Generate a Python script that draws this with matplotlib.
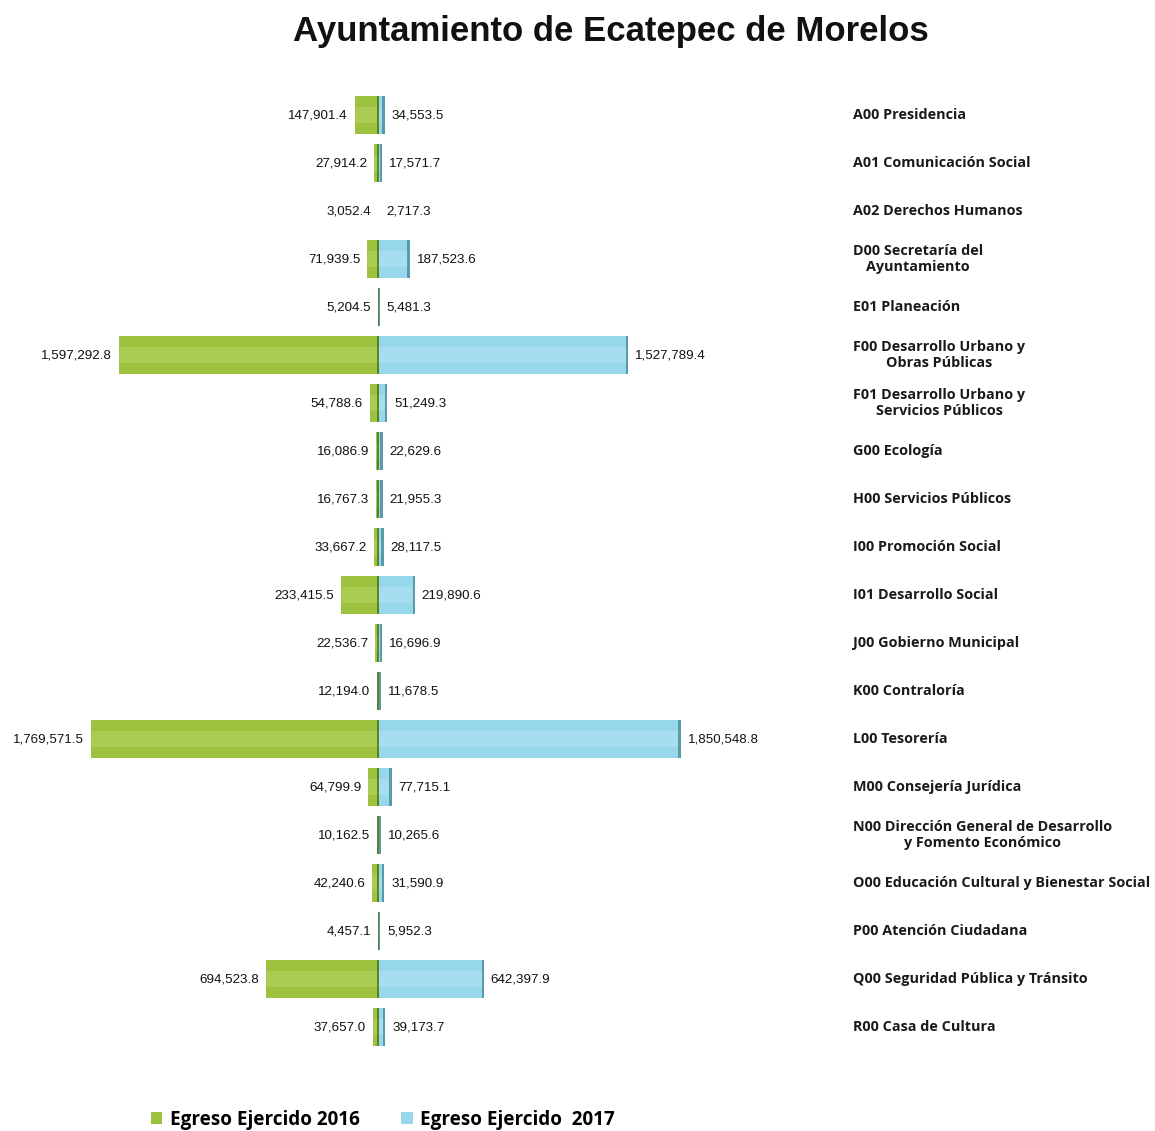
import matplotlib
matplotlib.use("Agg")
import matplotlib.pyplot as plt
from matplotlib.patches import Patch

categories = [
    "A00 Presidencia",
    "A01 Comunicación Social",
    "A02 Derechos Humanos",
    "D00 Secretaría del\nAyuntamiento",
    "E01 Planeación",
    "F00 Desarrollo Urbano y\nObras Públicas",
    "F01 Desarrollo Urbano y\nServicios Públicos",
    "G00 Ecología",
    "H00 Servicios Públicos",
    "I00 Promoción Social",
    "I01 Desarrollo Social",
    "J00 Gobierno Municipal",
    "K00 Contraloría",
    "L00 Tesorería",
    "M00 Consejería Jurídica",
    "N00 Dirección General de Desarrollo\ny Fomento Económico",
    "O00 Educación Cultural y Bienestar Social",
    "P00 Atención Ciudadana",
    "Q00 Seguridad Pública y Tránsito",
    "R00 Casa de Cultura",
]
egreso_2016 = [147901.4, 27914.2, 3052.4, 71939.5, 5204.5, 1597292.8, 54788.6,
               16086.9, 16767.3, 33667.2, 233415.5, 22536.7, 12194.0, 1769571.5,
               64799.9, 10162.5, 42240.6, 4457.1, 694523.8, 37657.0]
egreso_2017 = [34553.5, 17571.7, 2717.3, 187523.6, 5481.3, 1527789.4, 51249.3,
               22629.6, 21955.3, 28117.5, 219890.6, 16696.9, 11678.5, 1850548.8,
               77715.1, 10265.6, 31590.9, 5952.3, 642397.9, 39173.7]
series_names = ["Egreso Ejercido 2016", "Egreso Ejercido  2017"]

W, H = 1155, 1131
fig = plt.figure(figsize=(W / 100, H / 100), dpi=100)
fig.patch.set_facecolor("white")

top_px, bot_px = 91, 1051
ax = fig.add_axes([0, 1 - bot_px / H, 1, (bot_px - top_px) / H])
ppm = 163e-6  # pixels per unit
cx = 379
ax.set_xlim(-cx / ppm, (W - cx) / ppm)
n = len(categories)
ax.set_ylim(n - 0.5, -0.5)
ax.axis("off")

green = "#9DC23F"
green_dark = "#4E7A1C"
blue = "#96D7EC"
blue_dark = "#4E8FA0"
ys = list(range(n))
h = 0.78

ax.barh(ys, [-v for v in egreso_2016], height=h, color=green, edgecolor="none", zorder=2)
ax.barh(ys, egreso_2017, height=h, color=blue, edgecolor="none", zorder=2)
ax.barh(ys, [-v for v in egreso_2016], height=h * 0.45, color="#A9CB52", edgecolor="none", zorder=3)
ax.barh(ys, egreso_2017, height=h * 0.45, color="#A6DEEF", edgecolor="none", zorder=3)
edge_w = 2.2 / ppm
ax.barh(ys, [-min(edge_w, v) for v in egreso_2016], height=h, color=green_dark,
        edgecolor="none", zorder=4, alpha=0.85)
ax.barh(ys, [min(edge_w, v) for v in egreso_2017], height=h,
        left=[v - min(edge_w, v) for v in egreso_2017], color=blue_dark,
        edgecolor="none", zorder=4, alpha=0.85)

pad = 7 / ppm
vfont = dict(fontsize=9.6, family="Liberation Sans", color="#111111")
for y, a, b in zip(ys, egreso_2016, egreso_2017):
    ax.text(-a - pad, y, f"{a:,.1f}", ha="right", va="center", **vfont)
    ax.text(b + pad, y, f"{b:,.1f}", ha="left", va="center", **vfont)

lab_x = (853 - cx) / ppm
for y, c in zip(ys, categories):
    ax.text(lab_x, y, c, ha="left", va="center", multialignment="center",
            fontsize=10.4, family="Open Sans", fontweight="bold", color="#1a1a1a",
            linespacing=1.1)

fig.text(611 / W, 1 - 31 / H, "Ayuntamiento de Ecatepec de Morelos", ha="center",
         va="center", fontsize=25, fontweight="bold", family="Liberation Sans",
         color="#111111")

handles = [Patch(facecolor=green, edgecolor="none"), Patch(facecolor=blue, edgecolor="none")]
fig.legend(handles, series_names, loc="center left", bbox_to_anchor=(134 / W, 1 - 1120 / H),
           ncol=2, frameon=False, handlelength=0.6, handleheight=0.6, handletextpad=0.4,
           columnspacing=2.2, prop={"family": "Open Sans", "weight": "bold", "size": 13.6})

fig.savefig("out.png", dpi=100, facecolor="white")
